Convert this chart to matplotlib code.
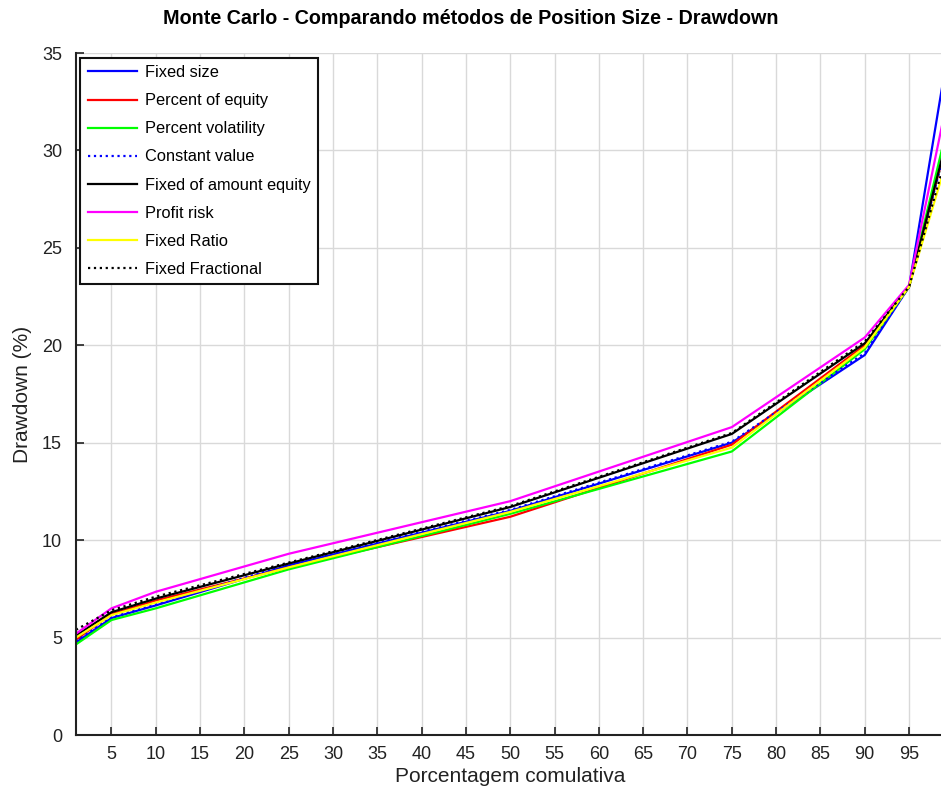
import matplotlib
matplotlib.use("Agg")
import matplotlib.pyplot as plt

plt.rcParams['font.family'] = ['Liberation Sans', 'DejaVu Sans']

# Cumulative percentage points (percentiles of the Monte Carlo drawdown distribution)
percentis = [1, 5, 10, 25, 50, 75, 90, 95, 99]

fixed_size = [4.75, 6.0, 6.65, 8.7, 11.5, 15.0, 19.5, 23.0, 34.0]
percent_equity = [4.9, 6.2, 6.9, 8.6, 11.2, 14.9, 20.0, 23.0, 30.0]
percent_volatility = [4.65, 5.9, 6.5, 8.5, 11.35, 14.55, 19.8, 23.0, 30.6]
constant_value = [4.8, 6.05, 6.7, 8.75, 11.55, 15.05, 19.6, 23.0, 29.9]
fixed_amount_equity = [5.1, 6.3, 7.0, 8.8, 11.7, 15.45, 20.1, 23.0, 30.1]
profit_risk = [5.2, 6.5, 7.35, 9.3, 12.0, 15.8, 20.4, 23.1, 31.9]
fixed_ratio = [5.0, 6.15, 6.8, 8.6, 11.45, 14.75, 19.9, 23.0, 29.1]
fixed_fractional = [5.4, 6.4, 7.1, 8.85, 11.75, 15.5, 20.2, 23.0, 29.4]

series_labels = ["Fixed size", "Percent of equity", "Percent volatility",
                 "Constant value", "Fixed of amount equity", "Profit risk",
                 "Fixed Ratio", "Fixed Fractional"]

x_ticks = list(range(5, 100, 5))
y_ticks = list(range(0, 36, 5))

fig = plt.figure(figsize=(9.41, 7.91), dpi=100)
ax = fig.add_axes([76 / 941, 1 - 735 / 791, (944.5 - 76) / 941, (735 - 53) / 791])

series = [fixed_size, percent_equity, percent_volatility, constant_value,
          fixed_amount_equity, profit_risk, fixed_ratio, fixed_fractional]
styles = [("#0000ff", "-"), ("#ff0000", "-"), ("#00ff00", "-"), ("#0000ff", ":"),
          ("#000000", "-"), ("#ff00ff", "-"), ("#ffff00", "-"), ("#000000", ":")]

for vals, label, (c, ls) in zip(series, series_labels, styles):
    ax.plot(percentis, vals, color=c, linestyle=ls, linewidth=1.6, label=label)

ax.set_xlim(1, 99)
ax.set_ylim(0, 35)
ax.set_xticks(x_ticks)
ax.set_yticks(y_ticks)
ax.tick_params(direction='in', length=6, width=1.2, labelsize=13, colors='#222222')
ax.tick_params(axis='x', pad=8)
ax.tick_params(axis='y', pad=10)
ax.grid(True, color='#d9d9d9', linewidth=1.0)
ax.set_axisbelow(True)
for s in ['top', 'right']:
    ax.spines[s].set_visible(False)
for s in ['left', 'bottom']:
    ax.spines[s].set_linewidth(1.5)
    ax.spines[s].set_color('#222222')

ax.set_xlabel("Porcentagem comulativa", fontsize=15, color='#222222', labelpad=3)
ax.set_ylabel("Drawdown (%)", fontsize=15, color='#222222', labelpad=7)
fig.text(0.5, 1 - 19 / 791, "Monte Carlo - Comparando métodos de Position Size - Drawdown",
         ha='center', va='center', fontsize=14.2, fontweight='bold', color='#000000')

leg = ax.legend(loc='upper left', bbox_to_anchor=(0.005, 0.993), fontsize=11.8,
                fancybox=False, framealpha=1, edgecolor='#111111',
                labelspacing=0.8, handlelength=3.0, handletextpad=0.5,
                borderpad=0.45, borderaxespad=0)
leg.get_frame().set_linewidth(1.5)

fig.savefig("out.png", dpi=100)
